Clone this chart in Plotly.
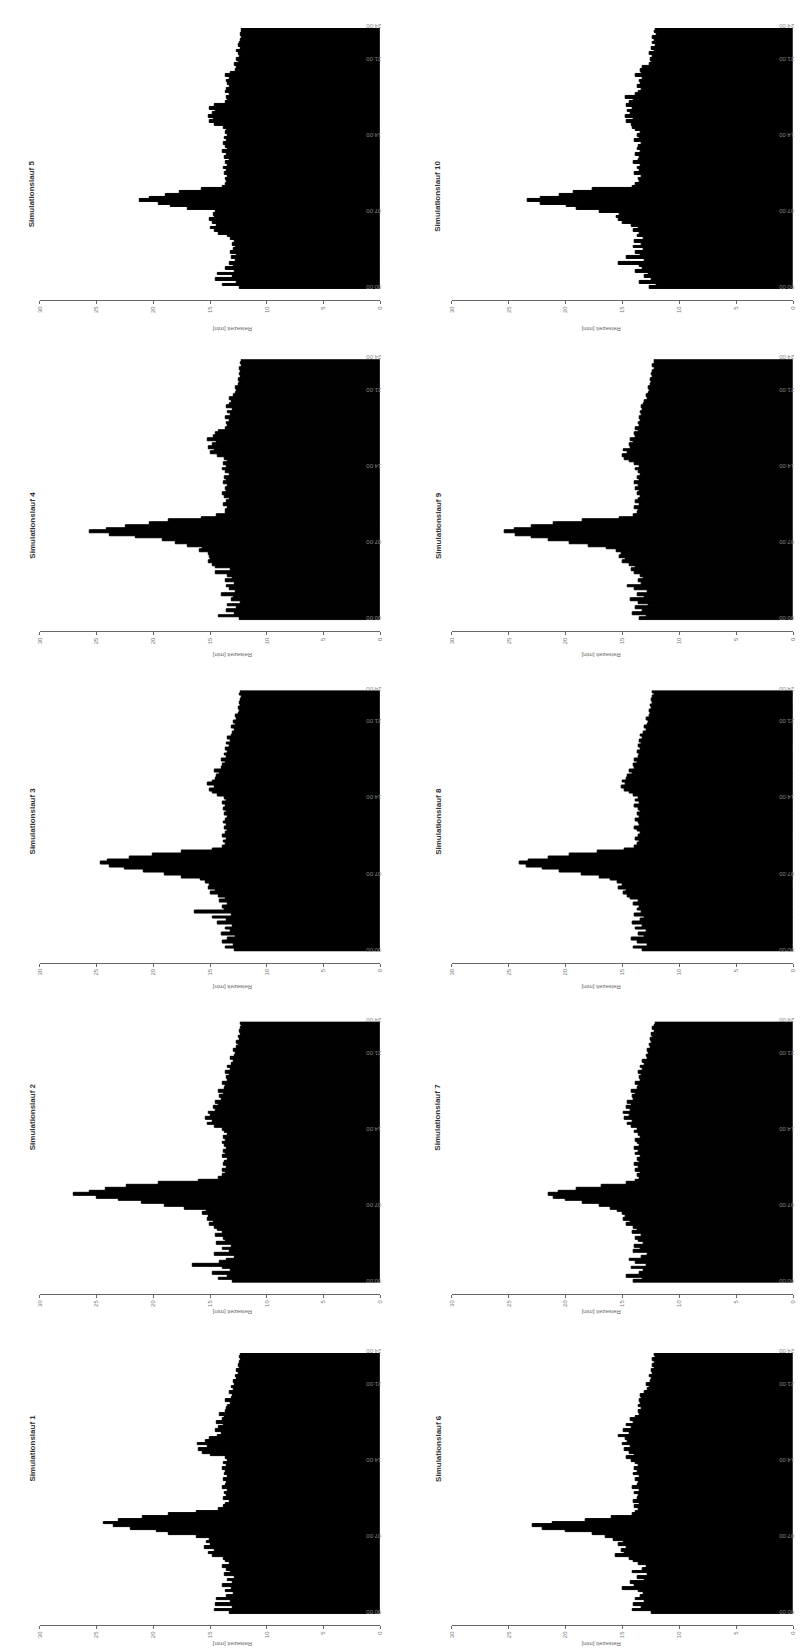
import plotly.graph_objects as go

# 15-minute bins, 96 per run (values in minutes)
run1 = [13.3, 14.6, 13.0, 14.5, 13.2, 14.4, 13.5, 12.9, 13.6, 13.1, 13.9, 13.0, 13.4, 12.8, 13.7, 13.2,
        13.5, 13.9, 13.3, 13.6, 13.8, 14.8, 15.1, 14.6, 15.5, 14.9, 15.3, 15.0, 16.2, 18.6, 19.7, 22.0,
        23.5, 24.4, 23.0, 20.9, 18.6, 16.2, 14.2, 13.8, 13.6, 13.3, 13.8, 13.5, 13.7, 13.4, 13.9, 13.6,
        13.5, 13.8, 13.4, 13.7, 13.6, 13.9, 13.5, 13.8, 13.4, 13.6, 14.9, 15.6, 16.0, 15.2, 16.1, 15.4,
        15.0, 14.3, 14.0, 14.5, 14.2, 13.8, 14.4, 13.9, 13.7, 14.1, 13.6, 13.5, 13.4, 13.2, 13.6, 13.1,
        13.0, 13.3, 12.9, 13.1, 12.8, 12.9, 12.6, 12.7, 12.5, 12.6, 12.4, 12.5, 12.4, 12.3, 12.4, 12.3]
run2 = [13.0, 14.2, 13.4, 14.8, 13.2, 13.9, 16.5, 14.1, 13.5, 12.8, 14.6, 13.3, 13.9, 13.1, 14.4, 13.6,
        13.8, 14.5, 13.9, 14.3, 14.6, 15.0, 14.7, 15.2, 15.1, 15.6, 15.3, 17.2, 19.0, 21.0, 23.0, 25.0,
        27.0, 25.6, 24.2, 22.3, 19.5, 16.0, 14.2, 13.9, 13.6, 13.9, 13.5, 13.8, 13.7, 13.4, 13.9, 13.6,
        13.8, 13.5, 13.7, 13.9, 13.6, 13.8, 13.4, 13.7, 13.9, 14.6, 15.2, 14.8, 15.4, 14.9, 15.1, 14.5,
        14.7, 14.2, 14.5, 14.0, 14.1, 13.8, 14.2, 13.7, 13.6, 13.9, 13.4, 13.5, 13.3, 13.6, 13.2, 13.4,
        13.1, 12.9, 13.2, 12.8, 12.7, 12.9, 12.6, 12.5, 12.6, 12.4, 12.5, 12.3, 12.4, 12.3, 12.2, 12.3]
run3 = [12.8, 13.6, 12.9, 13.9, 13.4, 12.7, 14.0, 13.2, 13.6, 13.0, 14.3, 13.5, 14.8, 13.1, 16.3, 13.7,
        13.9, 13.4, 14.1, 13.6, 14.2, 14.9, 14.5, 15.1, 15.0, 15.4, 15.8, 17.5, 19.0, 20.8, 22.5, 23.8,
        24.6, 24.0, 22.1, 20.0, 17.5, 14.8, 13.9, 13.6, 13.8, 13.5, 13.9, 13.6, 13.4, 13.7, 13.5, 13.8,
        13.6, 13.4, 13.7, 13.5, 13.8, 13.6, 13.9, 13.5, 13.7, 14.3, 14.8, 15.0, 14.6, 15.2, 14.8, 14.5,
        14.4, 14.1, 14.6, 14.0, 13.9, 13.6, 14.0, 13.5, 13.7, 13.4, 13.6, 13.3, 13.5, 13.2, 13.4, 13.1,
        13.0, 12.8, 13.1, 12.7, 12.9, 12.6, 12.7, 12.5, 12.4, 12.5, 12.3, 12.4, 12.3, 12.2, 12.4, 12.3]
run4 = [12.4, 14.2, 12.8, 13.5, 12.6, 13.4, 12.3, 13.1, 12.9, 14.0, 12.7, 13.3, 13.5, 12.8, 13.6, 13.0,
        13.4, 14.5, 13.2, 14.5, 14.8, 15.1, 14.9, 15.0, 15.1, 15.9, 15.6, 17.0, 18.0, 19.2, 21.5, 23.8,
        25.6, 24.1, 22.4, 20.3, 18.6, 15.7, 14.4, 13.6, 13.6, 13.4, 13.8, 13.5, 13.3, 13.7, 13.9, 13.5,
        13.6, 13.4, 13.8, 13.5, 13.7, 13.3, 13.6, 13.9, 13.5, 13.8, 13.4, 13.7, 14.3, 14.9, 14.6, 15.1,
        14.8, 14.4, 15.2, 14.7, 14.5, 14.2, 13.6, 13.4, 13.5, 13.3, 13.6, 13.2, 13.4, 13.0, 13.5, 13.3,
        13.1, 13.3, 12.9, 12.7, 12.6, 12.7, 12.5, 12.4, 12.5, 12.3, 12.4, 12.3, 12.4, 12.2, 12.3, 12.2]
run5 = [12.4, 13.9, 12.6, 14.5, 13.0, 14.3, 12.8, 13.6, 12.9, 13.3, 12.7, 13.1, 12.6, 13.2, 12.9, 12.7,
        13.0, 12.8, 13.2, 13.4, 14.2, 14.6, 14.9, 14.4, 14.8, 15.0, 14.6, 14.7, 14.5, 17.0, 18.5, 19.5,
        21.2, 20.3, 18.9, 17.7, 15.7, 13.9, 13.6, 13.5, 13.6, 13.4, 13.7, 13.5, 13.8, 13.4, 13.6, 13.3,
        13.7, 13.5, 13.9, 13.4, 13.6, 13.8, 13.5, 13.7, 13.4, 13.6, 13.5, 13.8, 14.6, 15.0, 14.7, 15.1,
        14.8, 14.5, 15.0, 14.6, 13.6, 13.4, 13.5, 13.3, 13.6, 13.5, 13.3, 13.4, 13.5, 13.3, 13.6, 13.2,
        12.7, 12.6, 12.8, 12.5, 12.6, 12.4, 12.5, 12.6, 12.3, 12.5, 12.4, 12.3, 12.2, 12.3, 12.2, 12.2]
run6 = [12.4, 14.1, 13.3, 14.0, 13.0, 13.8, 13.4, 13.1, 13.6, 15.0, 13.9, 14.3, 13.0, 13.7, 12.8, 14.1,
        13.2, 12.9, 13.6, 14.0, 14.4, 15.6, 14.8, 15.1, 14.6, 15.3, 14.9, 15.8, 16.5, 17.6, 20.0, 22.0,
        22.9, 21.1, 18.2, 15.9, 14.1, 13.8, 13.6, 13.9, 13.5, 14.0, 13.7, 13.6, 13.9, 13.5, 14.1, 13.7,
        13.6, 13.8, 13.5, 14.0, 13.7, 13.9, 13.6, 13.8, 14.2, 14.6, 13.9, 14.4, 14.8, 14.3, 15.0, 14.5,
        14.7, 15.3, 14.4, 14.9, 14.2, 14.6, 14.0, 14.3, 13.8, 13.5, 13.6, 13.3, 13.6, 13.4, 13.5, 13.3,
        13.4, 13.0, 12.8, 12.6, 12.9, 12.5, 12.4, 12.6, 12.3, 12.4, 12.2, 12.3, 12.2, 12.3, 12.1, 12.2]
run7 = [14.0, 13.2, 14.6, 13.5, 13.1, 14.2, 12.9, 13.8, 14.4, 13.3, 12.8, 14.0, 13.4, 13.9, 13.1, 13.6,
        13.8, 13.3, 14.1, 13.7, 14.0, 14.6, 14.3, 14.9, 14.7, 15.0, 15.4, 16.0, 17.0, 18.5, 20.0, 21.0,
        21.5, 20.6, 19.0, 16.8, 14.6, 13.8, 13.5, 13.7, 13.4, 13.8, 13.6, 13.9, 13.5, 13.7, 13.4, 13.8,
        13.6, 13.9, 13.5, 13.7, 13.8, 13.4, 13.6, 13.9, 13.7, 14.2, 14.5, 14.1, 14.8, 14.4, 14.9, 14.3,
        14.6, 14.2, 14.5, 14.0, 14.1, 13.8, 14.2, 13.7, 13.6, 13.8, 13.4, 13.5, 13.3, 13.6, 13.2, 13.4,
        13.0, 13.2, 12.8, 12.9, 12.7, 12.8, 12.5, 12.6, 12.4, 12.5, 12.3, 12.4, 12.2, 12.3, 12.2, 12.1]
run8 = [13.2, 14.0, 12.8, 13.7, 14.2, 13.0, 13.6, 12.9, 13.8, 13.2, 14.1, 13.4, 13.0, 13.9, 13.3, 13.7,
        13.5, 14.0, 13.6, 14.3, 14.5, 14.9, 14.6, 15.3, 15.0, 15.4, 16.0, 17.0, 18.6, 20.5, 22.0, 23.4,
        24.0, 23.2, 21.5, 19.6, 17.2, 14.8, 13.9, 13.7, 13.5, 13.8, 13.6, 13.4, 13.7, 13.9, 13.5, 13.6,
        13.8, 13.5, 13.7, 13.4, 13.6, 13.9, 13.5, 13.8, 13.6, 14.0, 14.4, 14.8, 15.1, 14.7, 15.0, 14.6,
        14.5, 14.1, 14.4, 13.9, 14.0, 13.7, 13.9, 13.6, 13.5, 13.7, 13.4, 13.6, 13.3, 13.5, 13.2, 13.4,
        13.1, 12.9, 13.0, 12.8, 12.7, 12.9, 12.6, 12.5, 12.6, 12.4, 12.5, 12.3, 12.4, 12.3, 12.2, 12.3]
run9 = [13.5, 12.9, 14.1, 13.2, 13.8, 12.7, 13.6, 14.3, 13.0, 13.7, 12.8, 13.9, 14.5, 13.3, 13.6, 13.1,
        13.4, 13.9, 14.2, 13.8, 14.4, 15.0, 14.7, 15.2, 15.1, 15.5, 16.4, 18.0, 19.6, 21.5, 23.0, 24.4,
        25.3, 24.5, 23.0, 21.0, 18.5, 15.2, 14.0, 13.7, 13.6, 13.9, 13.5, 13.8, 13.6, 13.4, 13.7, 13.5,
        13.8, 13.6, 13.9, 13.5, 13.7, 13.4, 13.6, 13.8, 13.5, 13.9, 14.4, 14.8, 15.0, 14.5, 14.9, 14.3,
        14.4, 14.0, 14.3, 13.8, 13.9, 13.6, 13.8, 13.5, 13.6, 13.4, 13.5, 13.3, 13.4, 13.2, 13.3, 13.1,
        13.0, 12.8, 12.9, 12.7, 12.6, 12.7, 12.5, 12.4, 12.5, 12.3, 12.4, 12.3, 12.2, 12.3, 12.2, 12.2]
run10 = [12.6, 12.0, 13.5, 12.4, 13.0, 12.7, 13.8, 13.2, 13.5, 15.3, 13.0, 14.6, 13.4, 13.8, 13.1, 14.0,
         13.3, 13.9, 13.1, 13.7, 13.5, 14.0, 13.6, 14.2, 15.0, 15.3, 15.5, 15.2, 17.0, 19.0, 19.9, 22.2,
         23.3, 22.2, 20.5, 19.3, 17.6, 14.1, 13.8, 13.5, 13.6, 13.3, 13.9, 13.5, 13.7, 13.4, 14.0, 13.6,
         13.5, 13.8, 13.4, 13.7, 13.6, 13.3, 13.9, 13.5, 13.7, 13.4, 13.8, 14.1, 14.2, 14.6, 14.0, 14.7,
         14.3, 14.5, 14.1, 14.6, 14.4, 14.0, 14.7, 13.8, 13.6, 13.3, 13.7, 13.4, 13.5, 13.2, 13.8, 13.3,
         13.4, 13.2, 12.6, 12.4, 12.5, 12.3, 12.6, 12.2, 12.4, 12.1, 12.3, 12.2, 12.3, 12.0, 12.2, 12.1]

runs = [run1, run2, run3, run4, run5, run6, run7, run8, run9, run10]
run_titles = ["Simulationslauf %d" % (i + 1) for i in range(10)]
bin_hours = 0.25
time_tickvals = [0, 7, 14, 21, 24]
time_ticktext = ["00:00", "07:00", "14:00", "21:00", "24:00"]
value_ticks = [0, 5, 10, 15, 20, 25, 30]
axis_title = "Reisezeit [min]"

W, H = 808, 1648
fig = go.Figure()
layout = {}
annotations = []

col_x = [(29, 372), (444, 788)]
title_x = [15, 430]
row_top0 = 15.0
row_pitch = 332.5
plot_h = 262.0

FONT = "Liberation Sans, Arial, sans-serif"

for k in range(10):
    col = 0 if k < 5 else 1
    r = 4 - (k % 5)
    top = row_top0 + r * row_pitch
    bot = top + plot_h
    x0, x1 = col_x[col]
    idx = "" if k == 0 else str(k + 1)
    xa = "xaxis" + idx
    ya = "yaxis" + idx
    vals = runs[k]
    centers = [(i + 0.5) * bin_hours for i in range(len(vals))]
    fig.add_trace(go.Bar(
        x=vals, y=centers, orientation="h", width=bin_hours,
        marker=dict(color="black", line=dict(width=1, color="black")),
        xaxis="x" + idx, yaxis="y" + idx, showlegend=False, hoverinfo="skip"))
    layout[xa] = dict(
        domain=[x0 / W, x1 / W], range=[30, 0], anchor="free",
        position=1 - (bot + 11) / H,
        tickvals=value_ticks, ticks="outside", ticklen=3, tickcolor="#666",
        showline=True, linecolor="#666", linewidth=1,
        tickangle=-90, tickfont=dict(size=6, color="#777", family=FONT),
        showgrid=False, zeroline=False, fixedrange=True)
    layout[ya] = dict(
        domain=[1 - bot / H, 1 - top / H], range=[0, 24], anchor="x" + idx,
        side="right", tickvals=time_tickvals, ticktext=time_ticktext,
        tickangle=180, tickfont=dict(size=6, color="#888", family=FONT),
        ticks="", showline=False, showgrid=False, zeroline=False, fixedrange=True)
    annotations.append(dict(
        text=axis_title, xref="paper", yref="paper",
        x=(x0 + x1) / 2 / W, y=1 - (bot + 35) / H, showarrow=False,
        textangle=180, font=dict(size=6, color="#666", family=FONT)))
    annotations.append(dict(
        text="<b>" + run_titles[k] + "</b>", xref="paper", yref="paper",
        x=title_x[col] / W, y=1 - (top + plot_h / 2) / H, showarrow=False,
        textangle=-90, font=dict(size=8, color="#333", family=FONT)))

fig.update_layout(
    width=W, height=H, margin=dict(l=0, r=0, t=0, b=0),
    paper_bgcolor="white", plot_bgcolor="white",
    bargap=0, annotations=annotations, **layout)

fig.write_html("out.html")
